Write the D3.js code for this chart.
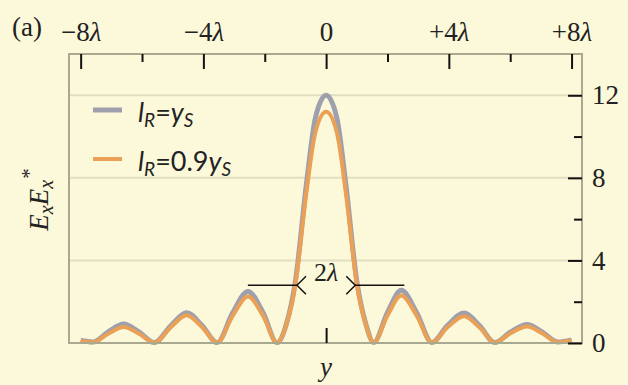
<!DOCTYPE html>
<html>
<head>
<meta charset="utf-8">
<script src="https://cdn.jsdelivr.net/npm/d3@7"></script>
<style>
  html, body { margin: 0; padding: 0; background: #fcf9da; }
  .tick text { font-family: "Liberation Serif", "DejaVu Serif", serif; }
</style>
</head>
<body>
<svg id="chart"></svg>
<script>
// positions along y in units of lambda
const posLambda = [-8.0, -7.6, -7.1, -6.6, -6.1, -5.6, -5.05, -4.55, -4.05, -3.55, -3.05, -2.55, -2.05, -1.6,
  -1.3, -1.0, -0.65, -0.35, 0, 0.35, 0.65, 1.0, 1.3, 1.55,
  2.0, 2.45, 2.95, 3.45, 3.95, 4.5, 5.0, 5.5, 6.0, 6.55, 7.05, 7.55, 8.0];
// l_R = y_S
const grayValues = [0.12, 0.05, 0.54, 0.92, 0.54, 0.02, 0.86, 1.47, 0.86, 0.02, 1.45, 2.5, 1.45, 0.02,
  0.9, 3.0, 7.6, 10.9, 12.0, 10.9, 7.6, 3.0, 0.9, 0.02,
  1.48, 2.55, 1.48, 0.02, 0.84, 1.45, 0.84, 0.02, 0.52, 0.9, 0.52, 0.05, 0.15];
// l_R = 0.9 y_S
const orangeValues = [0.1, 0.04, 0.45, 0.78, 0.45, 0.02, 0.78, 1.35, 0.78, 0.02, 1.3, 2.25, 1.3, 0.02,
  0.85, 2.85, 7.2, 10.2, 11.2, 10.2, 7.2, 2.85, 0.85, 0.02,
  1.33, 2.3, 1.33, 0.02, 0.75, 1.3, 0.75, 0.02, 0.46, 0.8, 0.46, 0.04, 0.12];

const topTicks = [-8, -4, 0, 4, 8];
const topLabels = [["\u22128", "\u03bb"], ["\u22124", "\u03bb"], ["0", ""], ["+4", "\u03bb"], ["+8", "\u03bb"]];
const topMinor = [-6, -2, 2, 6];
const rightTicks = [0, 4, 8, 12];
const rightMinor = [2, 6, 10];
const gridValues = [4, 8, 12];
const widthMark = { from: -2.55, to: 2.55, arrow: 0.95, level: 2.8 };

const W = 628, H = 385;
const margin = { top: 54, right: 46, bottom: 42, left: 69 };
const iw = W - margin.left - margin.right;
const ih = H - margin.top - margin.bottom;

const svg = d3.select("#chart").attr("width", W).attr("height", H);
svg.append("rect").attr("width", W).attr("height", H).attr("fill", "#fcf9da");

const g = svg.append("g").attr("transform", `translate(${margin.left},${margin.top})`);

const x = d3.scaleLinear().domain([-8.38, 8.34]).range([0, iw]);
const y = d3.scaleLinear().domain([0, 14]).range([ih, 0]);

// grid lines
g.selectAll(".grid").data(gridValues).join("line")
  .attr("x1", 0).attr("x2", iw)
  .attr("y1", d => y(d)).attr("y2", d => y(d))
  .attr("stroke", "#e2dec2").attr("stroke-width", 2);

// curves
const line = (vals) => d3.line()
  .x((d, i) => x(posLambda[i]))
  .y(d => y(d))
  .curve(d3.curveMonotoneX)(vals);

g.append("path").attr("d", line(grayValues))
  .attr("fill", "none").attr("stroke", "#9fa0ad").attr("stroke-width", 5);
g.append("path").attr("d", line(orangeValues))
  .attr("fill", "none").attr("stroke", "#eaa055").attr("stroke-width", 4);

// frame
g.append("rect").attr("width", iw).attr("height", ih)
  .attr("fill", "none").attr("stroke", "#a9a991").attr("stroke-width", 2);

// top axis
const topAxis = g.append("g").call(
  d3.axisTop(x).tickValues(topTicks).tickSize(-15).tickPadding(13).tickFormat(""));
topAxis.selectAll(".tick text").each(function (d, i) {
  const t = d3.select(this);
  t.append("tspan").text(topLabels[i][0]);
  t.append("tspan").attr("font-style", "italic").text(topLabels[i][1]);
});
g.append("g").call(d3.axisTop(x).tickValues(topMinor).tickSize(-8).tickFormat(""));

// right axis
g.append("g").attr("transform", `translate(${iw},0)`).call(
  d3.axisRight(y).tickValues(rightTicks).tickSize(-14).tickPadding(10));
g.append("g").attr("transform", `translate(${iw},0)`)
  .call(d3.axisRight(y).tickValues(rightMinor).tickSize(-8).tickFormat(""));

// bottom single tick at 0
g.append("g").attr("transform", `translate(0,${ih})`)
  .call(d3.axisBottom(x).tickValues([0]).tickSize(-15).tickFormat(""));

g.selectAll(".domain").remove();
g.selectAll(".tick line").attr("stroke", "#111").attr("stroke-width", 2);
g.selectAll(".tick text").attr("font-size", 27).attr("fill", "#222");

// 2 lambda annotation
const ay = y(widthMark.level);
g.append("line").attr("x1", x(widthMark.from)).attr("x2", x(-widthMark.arrow))
  .attr("y1", ay).attr("y2", ay).attr("stroke", "#111").attr("stroke-width", 1.5);
g.append("line").attr("x1", x(widthMark.arrow)).attr("x2", x(widthMark.to))
  .attr("y1", ay).attr("y2", ay).attr("stroke", "#111").attr("stroke-width", 1.5);
g.append("path")
  .attr("d", `M${x(-widthMark.arrow) + 9},${ay - 9} L${x(-widthMark.arrow)},${ay} L${x(-widthMark.arrow) + 9},${ay + 9}`)
  .attr("fill", "none").attr("stroke", "#111").attr("stroke-width", 1.5);
g.append("path")
  .attr("d", `M${x(widthMark.arrow) - 9},${ay - 9} L${x(widthMark.arrow)},${ay} L${x(widthMark.arrow) - 9},${ay + 9}`)
  .attr("fill", "none").attr("stroke", "#111").attr("stroke-width", 1.5);
const al = g.append("text").attr("x", x(0)).attr("y", ay - 4)
  .attr("text-anchor", "middle")
  .attr("font-family", "Liberation Serif, serif").attr("font-size", 26).attr("fill", "#222");
al.append("tspan").text("2");
al.append("tspan").attr("font-style", "italic").text("\u03bb");

// legend
const legend = [
  { color: "#9fa0ad", width: 5, pre: "", y: 110 },
  { color: "#eaa055", width: 4, pre: "0.9", y: 159 }
];
legend.forEach(l => {
  svg.append("line").attr("x1", 93).attr("x2", 122).attr("y1", l.y).attr("y2", l.y)
    .attr("stroke", l.color).attr("stroke-width", l.width);
  const t = svg.append("text").attr("x", 138).attr("y", l.y + 12)
    .attr("font-family", "Lato, 'Open Sans', sans-serif").attr("font-size", 27).attr("fill", "#222");
  t.append("tspan").attr("font-style", "italic").text("l");
  t.append("tspan").attr("font-style", "italic").attr("font-size", 19).attr("dy", 5).text("R");
  t.append("tspan").attr("dy", -5).text("=" + l.pre);
  t.append("tspan").attr("font-style", "italic").text("y");
  t.append("tspan").attr("font-style", "italic").attr("font-size", 19).attr("dy", 5).text("S");
});

// panel label
svg.append("text").attr("x", 12).attr("y", 36)
  .attr("font-family", "Liberation Serif, serif").attr("font-size", 27).attr("fill", "#222")
  .text("(a)");

// x label
svg.append("text").attr("x", margin.left + x(0)).attr("y", 376)
  .attr("text-anchor", "middle").attr("font-style", "italic")
  .attr("font-family", "Liberation Serif, serif").attr("font-size", 27).attr("fill", "#222")
  .text("y");

// y label
const yl = svg.append("text").attr("transform", "translate(48,200) rotate(-90)")
  .attr("text-anchor", "middle").attr("font-style", "italic")
  .attr("font-family", "Liberation Serif, serif").attr("font-size", 27).attr("fill", "#222");
yl.append("tspan").text("E");
yl.append("tspan").attr("font-size", 20).attr("dy", 5).text("x");
yl.append("tspan").attr("dy", -5).text("E");
yl.append("tspan").attr("font-size", 20).attr("dy", 5).text("x");
yl.append("tspan").attr("font-size", 21).attr("dy", -17).text("*");
</script>
</body>
</html>
